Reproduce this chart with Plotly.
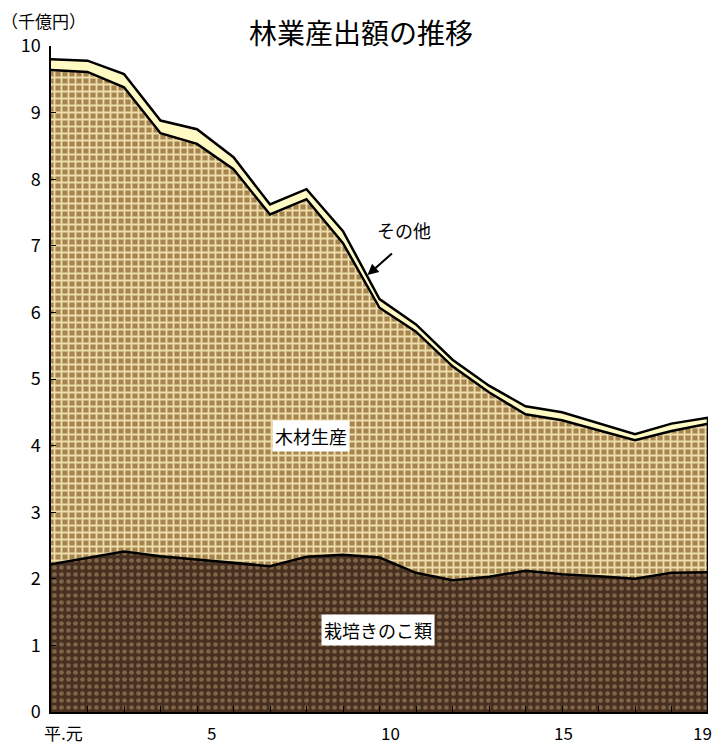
import plotly.graph_objects as go

# Data (千億円), 平成元年〜19年
years = list(range(1, 20))
kinoko = [2.22, 2.31, 2.41, 2.34, 2.29, 2.24, 2.19, 2.33, 2.36, 2.32,
          2.09, 1.98, 2.03, 2.12, 2.07, 2.04, 2.00, 2.09, 2.10]
mokuzai = [7.42, 7.30, 6.97, 6.35, 6.24, 5.91, 5.28, 5.37, 4.68, 3.75,
           3.62, 3.21, 2.77, 2.35, 2.31, 2.19, 2.08, 2.13, 2.23]
sonota = [0.16, 0.17, 0.20, 0.19, 0.22, 0.18, 0.15, 0.15, 0.18, 0.13,
          0.11, 0.10, 0.10, 0.12, 0.12, 0.10, 0.09, 0.11, 0.09]
tick_labels = ["平.元", "5", "10", "15", "19"]
tick_label_pos = [1.34, 5.39, 10.30, 15.03, 18.84]

FONT = "Noto Sans CJK JP"

fig = go.Figure()
fig.add_trace(go.Scatter(
    x=years, y=kinoko, stackgroup="s", mode="lines",
    line=dict(color="black", width=2.5),
    fillcolor="#4a3222",
    fillpattern=dict(shape=".", bgcolor="#47301f", fgcolor="#80654a",
                     size=7, solidity=0.35, fillmode="replace"),
    hoverinfo="skip", name="栽培きのこ類"))
fig.add_trace(go.Scatter(
    x=years, y=mokuzai, stackgroup="s", mode="lines",
    line=dict(color="black", width=2.5),
    fillcolor="#c3a46b",
    fillpattern=dict(shape="+", bgcolor="#a6854f", fgcolor="#efdeac",
                     size=7, solidity=0.45, fillmode="replace"),
    hoverinfo="skip", name="木材生産"))
fig.add_trace(go.Scatter(
    x=years, y=sonota, stackgroup="s", mode="lines",
    line=dict(color="black", width=2.5),
    fillcolor="#fffac4",
    hoverinfo="skip", name="その他"))

total_last = kinoko[-1] + mokuzai[-1] + sonota[-1]
fig.add_trace(go.Scatter(
    x=[years[-1], years[-1]], y=[0, total_last], mode="lines",
    line=dict(color="black", width=2.5), hoverinfo="skip", showlegend=False))

annotations = []
for t, p in zip(tick_labels, tick_label_pos):
    annotations.append(dict(x=p, y=0, xref="x", yref="y", text=t,
                            showarrow=False, yshift=-20,
                            font=dict(family=FONT, size=17, color="black")))
annotations += [
    dict(x=8.13, y=4.15, xref="x", yref="y", text="木材生産", showarrow=False,
         bgcolor="white", borderpad=2,
         font=dict(family=FONT, size=18, color="black")),
    dict(x=9.97, y=1.23, xref="x", yref="y", text="栽培きのこ類", showarrow=False,
         bgcolor="white", borderpad=2,
         font=dict(family=FONT, size=18, color="black")),
    dict(x=10.68, y=7.23, xref="x", yref="y", text="その他", showarrow=False,
         font=dict(family=FONT, size=18, color="black")),
    dict(x=9.67, y=6.56, xref="x", yref="y", text="", showarrow=True,
         ax=26, ay=-23, arrowhead=2, arrowsize=1.1, arrowwidth=2,
         arrowcolor="black"),
    dict(x=0, y=1, xref="paper", yref="paper", text="（千億円）", showarrow=False,
         xanchor="left", yanchor="bottom", xshift=-52, yshift=11,
         font=dict(family=FONT, size=17, color="black")),
]

fig.update_layout(
    width=715, height=745,
    margin=dict(l=51, r=7, t=46, b=33),
    paper_bgcolor="white", plot_bgcolor="white",
    showlegend=False,
    title=dict(text="林業産出額の推移", x=0.505, xanchor="center",
               y=1 - 34 / 745, yanchor="middle",
               font=dict(family=FONT, size=28, color="black")),
    annotations=annotations,
    xaxis=dict(range=[1, 19], showgrid=False, zeroline=False,
               tickvals=years, showticklabels=False,
               ticks="inside", ticklen=6, tickcolor="black", tickwidth=1,
               showline=True, linecolor="black", linewidth=2),
    yaxis=dict(range=[0, 10], showgrid=False, zeroline=False,
               tickvals=list(range(0, 11)),
               ticks="inside", ticklen=5, tickcolor="black", tickwidth=1,
               showline=True, linecolor="black", linewidth=1.5,
               ticklabelstandoff=5,
               tickfont=dict(family=FONT, size=18, color="black")),
)

fig.write_html(
    "out.html",
    config={"displayModeBar": False},
    post_script="document.body.style.margin='0';"
                "document.body.style.overflow='hidden';",
)
